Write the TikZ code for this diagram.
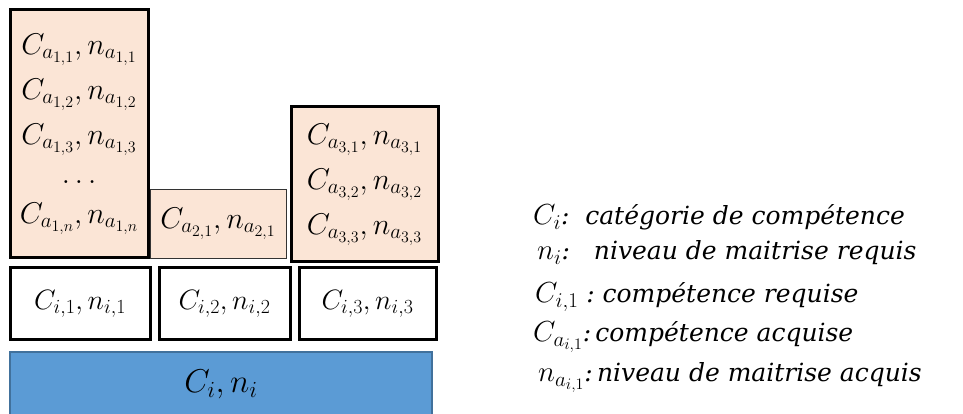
\RequirePackage{fix-cm}
\documentclass[tikz,border=0pt]{standalone}
\usepackage[no-math]{fontspec}
\newfontfamily\legendfont{DejaVu Serif}
\usetikzlibrary{positioning}
\definecolor{acqfill}{HTML}{FBE5D6}
\definecolor{basefill}{HTML}{5B9BD5}
\definecolor{basedraw}{HTML}{41719C}
\DeclareMathSizes{28}{28}{20}{15}
\DeclareMathSizes{29}{29}{21}{16}
\DeclareMathSizes{30}{30}{21}{16}
\DeclareMathSizes{33}{33}{23}{18}
\newcommand\legmath[1]{{\fontsize{29}{30}\selectfont$#1$}}
\tikzset{
  acq/.style = {rectangle, draw, line width=3pt, outer sep=0pt, fill=acqfill, align=center, inner sep=1pt, font=\fontsize{30}{45}\selectfont},
  acqthin/.style = {acq, line width=0.9pt, draw=black!80},
  req/.style = {rectangle, draw, line width=3pt, outer sep=0pt, minimum height=72pt, align=center, inner sep=1pt, font=\fontsize{28}{32}\selectfont},
  base/.style = {rectangle, draw=basedraw, line width=1.5pt, outer sep=0pt, fill=basefill, minimum width=422pt, minimum height=64pt, inner sep=0pt, font=\fontsize{33}{36}\selectfont},
  legend/.style = {anchor=base west, inner sep=0pt, font=\fontsize{25}{28}\selectfont\legendfont\itshape}
}

\begin{document}
\begin{tikzpicture}[x=1pt, y=1pt]
\useasboundingbox (0,0) rectangle (963,414);

% niveau requis
\node[base, anchor=north west] (base) at (10,62) {$C_i, n_i$};
\node[req, minimum width=140pt, above right=12pt and 0pt of base.north west] (req1) {$C_{i,1}, n_{i,1}$};
\node[req, minimum width=131pt, right=9pt of req1] (req2) {$C_{i,2}, n_{i,2}$};
\node[req, minimum width=137pt, right=9pt of req2] (req3) {$C_{i,3}, n_{i,3}$};

% niveau acquis
\node[acq, minimum width=138pt, minimum height=248pt, above right=10pt and 0pt of req1.north west] (acq1)
  {$C_{a_{1,1}}, n_{a_{1,1}}$\\ $C_{a_{1,2}}, n_{a_{1,2}}$\\ $C_{a_{1,3}}, n_{a_{1,3}}$\\[-6pt] $\dots$\\[-5pt] $C_{a_{1,n}}, n_{a_{1,n}}$};
\node[acqthin, minimum width=136pt, minimum height=69pt, above right=0pt and 2pt of acq1.south east] (acq2) {$C_{a_{2,1}}, n_{a_{2,1}}$};
\node[acq, minimum width=147pt, minimum height=155pt, above right=-4pt and 5pt of acq2.south east] (acq3)
  {$C_{a_{3,1}}, n_{a_{3,1}}$\\ $C_{a_{3,2}}, n_{a_{3,2}}$\\ $C_{a_{3,3}}, n_{a_{3,3}}$};

% legende
\node[legend] (legC) at (533,189) {\legmath{C_i}:~~catégorie de compétence};
\node[legend] (legn) at (537,154) {\legmath{n_i}:~~~niveau de maitrise requis};
\node[legend] (legCr) at (535,111) {\legmath{C_{i,1}} :~compétence requise};
\node[legend] (legCa) at (533,72) {\legmath{C_{a_{i,1}}}:\,compétence acquise};
\node[legend] (legna) at (538,32) {\legmath{n_{a_{i,1}}}:\,niveau de maitrise acquis};

\end{tikzpicture}
\end{document}
